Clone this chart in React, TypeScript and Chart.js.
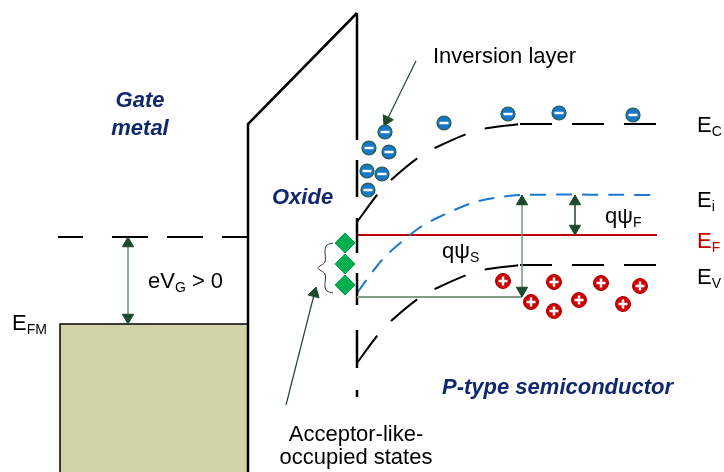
import React, { useEffect, useRef } from 'react';
import { Chart, registerables } from 'chart.js';

Chart.register(...registerables);

const W = 724;
const H = 472;

// ---- energy band curves (diagram units, y grows downward) ----
const bandCurveX = [357, 377, 391, 419, 437, 469, 488, 520];
const conductionY = [222, 195, 180, 157, 147, 133, 128, 124];
const intrinsicY = [293, 266, 251, 228, 218, 204, 199, 195];
const valenceY = [363, 336, 321, 298, 288, 274, 269, 265];
const bulkX = [520, 660];
const bulkConductionY = 124;
const bulkIntrinsicY = 195;
const bulkValenceY = 265;
const fermiX = [357, 657];
const fermiY = 235;

// ---- gate metal ----
const metalX = [60, 248];
const metalTopY = 324;
const metalFermiDashStart = [58, 112, 167, 222];
const metalFermiDashEnd = [83, 148, 203, 247];
const metalFermiY = 237;

// ---- oxide ----
const oxideOutlineX = [248, 248, 357];
const oxideOutlineY = [472, 124, 13];
const oxideEdgeX = 357;
const oxideEdgeTop = [13, 160, 218, 273, 330, 390];
const oxideEdgeBottom = [140, 197, 253, 305, 368, 397];

// ---- carriers & states ----
const electronX = [385, 369, 389, 367, 382, 368, 444, 508, 559, 633];
const electronY = [132, 148, 152, 171, 174, 190, 123, 114, 113, 115];
const holeX = [503, 554, 601, 640, 531, 554, 579, 623];
const holeY = [281, 282, 283, 286, 302, 311, 300, 304];
const stateX = [345, 345, 345];
const stateY = [243, 264, 285];

// ---- brace ----
const braceX = [333, 327, 325, 325, 318, 325, 325, 327, 333];
const braceY = [243, 245, 250, 262, 268, 274, 287, 291, 293];

// ---- arrows ----
const gateArrowX = 128;
const gateArrowY = [237, 324];
const psiSRefY = 297;
const psiSArrowX = 522;
const psiSArrowY = [297, 195];
const psiFArrowX = 575;
const psiFArrowY = [195, 235];
const inversionArrowX = [416, 384];
const inversionArrowY = [61, 126];
const acceptorArrowX = [286, 316];
const acceptorArrowY = [405, 287];

// ---- text ----
const regionNames = ['Gate', 'metal', 'Oxide', 'P-type semiconductor'];
const regionNameX = [140, 140, 272, 442];
const regionNameY = [107, 135, 204, 394];
const regionAlign = ['center', 'center', 'left', 'left'];

const noteTexts = ['Inversion layer', 'Acceptor-like-', 'occupied states'];
const noteX = [433, 356, 356];
const noteY = [63, 441, 464];
const noteAlign = ['left', 'center', 'center'];

const symbolMain = ['E', 'E', 'E', 'E', 'E', 'eV', 'qψ', 'qψ'];
const symbolSub = ['C', 'i', 'F', 'V', 'FM', 'G', 'F', 'S'];
const symbolTail = ['', '', '', '', '', ' > 0', '', ''];
const symbolX = [697, 697, 697, 697, 12, 148, 605, 442];
const symbolY = [132, 207, 248, 284, 330, 288, 223, 258];
const symbolColor = ['#000', '#000', '#c00000', '#000', '#000', '#000', '#000', '#000'];

const FONT = '"Liberation Sans", Arial, Helvetica, sans-serif';
const NAVY = '#10286e';
const ARROW_DARK = '#1c4a2c';
const ARROW_SHAFT = '#6e9479';

type P = { x: number; y: number };
const pts = (xs: number[], ys: number[]): P[] => xs.map((x, i) => ({ x, y: ys[i] }));

const lineDs = (data: P[], color: string, width: number, dash: number[] = [], tension = 0, order = 5) => ({
  data,
  showLine: true,
  borderColor: color,
  borderWidth: width,
  borderDash: dash,
  borderCapStyle: 'butt',
  tension,
  pointRadius: 0,
  fill: false,
  order,
});

const markDs = (data: P[], style: string, radius: number, bg: string, border: string, bw: number, order: number, rotation: number[] | number = 0) => ({
  data,
  showLine: false,
  pointStyle: style,
  pointRadius: radius,
  pointBackgroundColor: bg,
  pointBorderColor: border,
  pointBorderWidth: bw,
  pointRotation: rotation,
  order,
});

const HEAD_R = 6.5;
const headsFor = (tips: P[], froms: P[]) => {
  const data: P[] = [];
  const rot: number[] = [];
  tips.forEach((t, i) => {
    const f = froms[i];
    const dx = t.x - f.x;
    const dy = t.y - f.y;
    const len = Math.hypot(dx, dy);
    const ux = dx / len;
    const uy = dy / len;
    data.push({ x: t.x - ux * HEAD_R, y: t.y - uy * HEAD_R });
    rot.push((Math.atan2(ux, -uy) * 180) / Math.PI);
  });
  return { data, rot };
};

const textPlugin = {
  id: 'diagramText',
  afterDatasetsDraw(chart: any) {
    const ctx = chart.ctx as CanvasRenderingContext2D;
    const sx = chart.scales.x;
    const sy = chart.scales.y;
    ctx.save();
    ctx.textBaseline = 'alphabetic';

    // region names
    ctx.fillStyle = NAVY;
    ctx.font = `italic bold 22px ${FONT}`;
    regionNames.forEach((t, i) => {
      ctx.textAlign = regionAlign[i] as CanvasTextAlign;
      ctx.fillText(t, sx.getPixelForValue(regionNameX[i]), sy.getPixelForValue(regionNameY[i]));
    });

    // notes
    ctx.fillStyle = '#000';
    ctx.font = `22px ${FONT}`;
    noteTexts.forEach((t, i) => {
      ctx.textAlign = noteAlign[i] as CanvasTextAlign;
      ctx.fillText(t, sx.getPixelForValue(noteX[i]), sy.getPixelForValue(noteY[i]));
    });

    // symbols with subscripts
    ctx.textAlign = 'left';
    symbolMain.forEach((m, i) => {
      let x = sx.getPixelForValue(symbolX[i]);
      const y = sy.getPixelForValue(symbolY[i]);
      ctx.fillStyle = symbolColor[i];
      ctx.font = `22px ${FONT}`;
      ctx.fillText(m, x, y);
      x += ctx.measureText(m).width;
      ctx.font = `14px ${FONT}`;
      ctx.fillText(symbolSub[i], x, y + 4);
      x += ctx.measureText(symbolSub[i]).width;
      if (symbolTail[i]) {
        ctx.font = `22px ${FONT}`;
        ctx.fillText(symbolTail[i], x, y);
      }
    });
    ctx.restore();
  },
};

export default function App() {
  const ref = useRef<HTMLCanvasElement | null>(null);

  useEffect(() => {
    if (!ref.current) return;

    const ecCurve = pts(bandCurveX, conductionY);
    const eiCurve = pts(bandCurveX, intrinsicY);
    const evCurve = pts(bandCurveX, valenceY);

    const datasets: any[] = [];

    // metal fill + outline
    datasets.push({
      data: pts(metalX, [metalTopY, metalTopY]),
      showLine: true,
      borderWidth: 0,
      pointRadius: 0,
      backgroundColor: '#d2d3a9',
      fill: { value: H },
      order: 20,
    });
    datasets.push(lineDs(pts([metalX[0], metalX[0], metalX[1]], [H, metalTopY, metalTopY]), '#000', 1.5, [], 0, 6));
    metalFermiDashStart.forEach((s, i) => {
      datasets.push(lineDs(pts([s, metalFermiDashEnd[i]], [metalFermiY, metalFermiY]), '#000', 2, [], 0, 6));
    });

    // oxide
    datasets.push(lineDs(pts(oxideOutlineX, oxideOutlineY), '#000', 2.5, [], 0, 6));
    oxideEdgeTop.forEach((t, i) => {
      datasets.push(lineDs(pts([oxideEdgeX, oxideEdgeX], [t, oxideEdgeBottom[i]]), '#000', 2.5, [], 0, 6));
    });

    // bands
    datasets.push(lineDs(ecCurve, '#000', 2, [34, 20], 0.3, 6));
    datasets.push(lineDs(pts(bulkX, [bulkConductionY, bulkConductionY]), '#000', 2, [32, 20], 0, 6));
    datasets.push(lineDs(evCurve, '#000', 2, [34, 20], 0.3, 6));
    datasets.push(lineDs(pts(bulkX, [bulkValenceY, bulkValenceY]), '#000', 2, [32, 20], 0, 6));
    datasets.push(lineDs([...eiCurve, { x: bulkX[1], y: bulkIntrinsicY }], '#1a78cf', 2, [16, 10], 0.3, 6));
    datasets.push(lineDs(pts(fermiX, [fermiY, fermiY]), '#c00000', 2, [], 0, 6));

    // psi_S reference line + arrows
    datasets.push(lineDs(pts([oxideEdgeX, psiSArrowX], [psiSRefY, psiSRefY]), '#7f9d89', 2, [], 0, 5));
    datasets.push(lineDs(pts([psiSArrowX, psiSArrowX], psiSArrowY), ARROW_SHAFT, 1.5, [], 0, 5));
    datasets.push(lineDs(pts([psiFArrowX, psiFArrowX], psiFArrowY), ARROW_DARK, 1.5, [], 0, 5));
    datasets.push(lineDs(pts([gateArrowX, gateArrowX], gateArrowY), ARROW_SHAFT, 1.5, [], 0, 5));
    datasets.push(lineDs(pts(inversionArrowX, inversionArrowY), ARROW_DARK, 1.2, [], 0, 5));
    datasets.push(lineDs(pts(acceptorArrowX, acceptorArrowY), ARROW_DARK, 1.2, [], 0, 5));

    // arrow heads
    const tips: P[] = [];
    const froms: P[] = [];
    const dbl = (x1: number, y1: number, x2: number, y2: number) => {
      tips.push({ x: x1, y: y1 }, { x: x2, y: y2 });
      froms.push({ x: x2, y: y2 }, { x: x1, y: y1 });
    };
    dbl(gateArrowX, gateArrowY[0], gateArrowX, gateArrowY[1]);
    dbl(psiSArrowX, psiSArrowY[0], psiSArrowX, psiSArrowY[1]);
    dbl(psiFArrowX, psiFArrowY[0], psiFArrowX, psiFArrowY[1]);
    tips.push({ x: inversionArrowX[1], y: inversionArrowY[1] });
    froms.push({ x: inversionArrowX[0], y: inversionArrowY[0] });
    tips.push({ x: acceptorArrowX[1], y: acceptorArrowY[1] });
    froms.push({ x: acceptorArrowX[0], y: acceptorArrowY[0] });
    const heads = headsFor(tips, froms);
    datasets.push(markDs(heads.data, 'triangle', HEAD_R, ARROW_DARK, ARROW_DARK, 1, 2, heads.rot));

    // brace
    datasets.push(lineDs(pts(braceX, braceY), '#333', 1, [], 0.35, 5));

    // states, electrons, holes
    datasets.push(markDs(pts(stateX, stateY), 'rectRot', 10, '#00b050', '#00a84a', 1, 1));
    datasets.push(markDs(pts(electronX, electronY), 'circle', 7, '#1677c7', '#2a5a46', 1.2, 1));
    datasets.push(markDs(pts(electronX, electronY), 'line', 4.5, '#fff', '#fff', 2.5, 0));
    datasets.push(markDs(pts(holeX, holeY), 'circle', 7.5, '#d00000', '#a80000', 1, 1));
    datasets.push(markDs(pts(holeX, holeY), 'cross', 4.5, '#fff', '#fff', 2.5, 0));

    const chart = new Chart(ref.current, {
      type: 'scatter',
      data: { datasets },
      options: {
        responsive: false,
        animation: false,
        events: [],
        layout: { padding: 0, autoPadding: false },
        plugins: {
          legend: { display: false },
          tooltip: { enabled: false },
          title: { display: false },
        },
        scales: {
          x: { type: 'linear', min: 0, max: W, display: false },
          y: { type: 'linear', min: 0, max: H, reverse: true, display: false },
        },
      },
      plugins: [textPlugin],
    } as any);

    return () => chart.destroy();
  }, []);

  return (
    <div style={{ position: 'fixed', left: 0, top: 0, width: W, height: H, background: '#fff' }}>
      <canvas ref={ref} width={W} height={H} style={{ display: 'block' }} />
    </div>
  );
}
